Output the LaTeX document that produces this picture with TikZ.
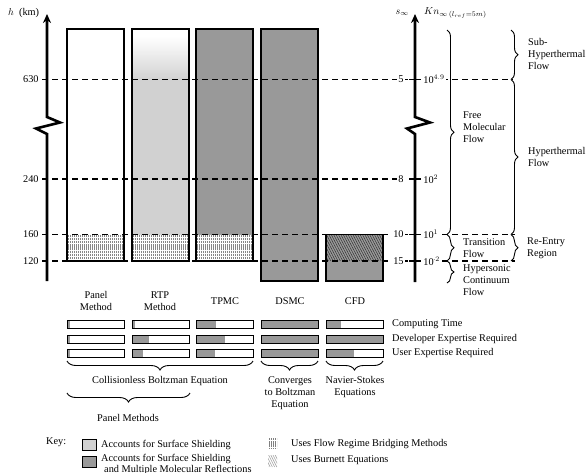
\documentclass[tikz,border=0pt]{standalone}
\usepackage{fontspec}
\setmainfont{Liberation Serif}
\usetikzlibrary{decorations.pathreplacing,arrows.meta}
\definecolor{dk}{gray}{0.6}
\definecolor{lt}{gray}{0.82}
\begin{document}
\begin{tikzpicture}[x=1pt,y=-1pt,font=\fontsize{10.3}{11.8}\selectfont,
  lbl/.style={inner sep=0pt},
  wlbl/.style={inner sep=1.2pt,fill=white},
  dline/.style={dash pattern=on 6pt off 4pt,line width=1.2pt},
  colbox/.style={draw=black,line width=1.1pt},
  minibar/.style={draw=black,line width=1pt},
  brc/.style={decorate,decoration={brace,amplitude=7pt},line width=0.9pt},
  bbrc/.style={decorate,decoration={brace,amplitude=9pt},line width=0.9pt},
  axisline/.style={line width=2.6pt},
  tickline/.style={line width=1.1pt},
  vhatch/.style={gray!95,line width=0.6pt,dash pattern=on 2.4pt off 0.8pt},
  dhatch/.style={gray!40!black,line width=0.5pt},
]
\useasboundingbox (0,0) rectangle (587,472);
% ---------- column fills ----------
% RTP gradient
\fill[white] (132,29) rectangle (189,36);
\foreach \i in {0,...,44}{
  \pgfmathtruncatemacro\p{100*\i/44}
  \fill[lt!\p!white] (132,36+\i) rectangle (189,37.3+\i);
}
\fill[lt] (132,80) rectangle (189,261);
\fill[dk] (196,29) rectangle (253,261);
\fill[dk] (261,29) rectangle (318,281);
\fill[dk] (326,234.5) rectangle (383,281);
% bridging hatch
\foreach \xa/\xb in {67/124,132/189,196/253}{
  \fill[white] (\xa,234.5) rectangle (\xb,261);
  \begin{scope}
    \clip (\xa,234.5) rectangle (\xb,261);
    \foreach \k in {0,...,28}{
      \draw[vhatch] (\xa+1.2+2*\k,234.5) -- (\xa+1.2+2*\k,261);
    }
  \end{scope}
}
% Burnett hatch in CFD
\begin{scope}
  \clip (326,234.5) rectangle (383,261);
  \foreach \k in {0,...,30}{
    \draw[dhatch] (312+2.4*\k,234.5) -- (326+2.4*\k,261);
  }
\end{scope}
% borders
\draw[colbox] (67,29) rectangle (124,261);
\draw[colbox] (132,29) rectangle (189,261);
\draw[colbox] (196,29) rectangle (253,261);
\draw[colbox] (261,29) rectangle (318,281);
\draw[colbox] (326,234.5) rectangle (383,281);
% ---------- dashed level lines ----------
\draw[dline] (42,79.5) -- (513,79.5);
\draw[dline] (42,179) -- (405,179);
\draw[dline] (42,234.5) -- (515,234.5);
\draw[dline] (42,261) -- (515,261);
% ---------- left axis ----------
\draw[axisline,-{Stealth[length=9pt,width=8pt]}] (47,281) -- (47,134) -- (36,128.5) -- (60,122.5) -- (47,117) -- (47,14);
\node[lbl,anchor=west] (hlab) at (8,13) {$h$\ \ (km)};
\node[wlbl,anchor=east] (l630) at (40,79.5) {630};
\node[wlbl,anchor=east] (l240) at (40,179) {240};
\node[wlbl,anchor=east] (l160) at (40,234.5) {160};
\node[wlbl,anchor=east] (l120) at (40,261) {120};
% ---------- right axis ----------
\node[wlbl,anchor=east] (s5) at (405,79.5) {5};
\node[wlbl,anchor=east] (s8) at (405,179) {8};
\node[wlbl,anchor=east] (s10) at (405,234.5) {10};
\node[wlbl,anchor=east] (s15) at (405,261) {15};
\node[wlbl,anchor=west] (k5) at (422,79.5) {10$^{4.9}$};
\node[wlbl,anchor=west] (k8) at (422,179) {10$^{2}$};
\node[wlbl,anchor=west] (k10) at (422,234.5) {10$^{1}$};
\node[wlbl,anchor=west] (k15) at (422,261) {10$^{\mbox{\tiny -}2}$};
\draw[axisline,-{Stealth[length=9pt,width=8pt]}] (415,282) -- (415,134) -- (407,128.5) -- (430,122.5) -- (415,117) -- (415,14);
\foreach \yy in {79.5,179,234.5,261}{
  \draw[tickline] (409,\yy) -- (421,\yy);
}
\node[lbl,anchor=east] (slab) at (409,13) {$s_{\infty}$};
\node[lbl,anchor=west] (knlab) at (424,13) {$Kn_{\infty\,(l_{ref}=5m)}$};
% ---------- regime braces ----------
\draw[brc] (447,30) -- (447,234.5);
\draw[brc] (447,234.5) -- (447,261);
\draw[brc] (447,261) -- (447,283);
\draw[brc] (511,30) -- (511,79.5);
\draw[brc] (511,79.5) -- (511,234.5);
\draw[brc] (511,234.5) -- (511,261);
\node[lbl,anchor=west,align=left] (fm) at (463,127) {Free\\Molecular\\Flow};
\node[lbl,anchor=west,align=left] (tr) at (463,248) {Transition\\Flow};
\node[lbl,anchor=west,align=left] (hc) at (463,280) {Hypersonic\\Continuum\\Flow};
\node[lbl,anchor=west,align=left] (sh) at (528,54) {Sub-\\Hyperthermal\\Flow};
\node[lbl,anchor=west,align=left] (ht) at (528,157) {Hyperthermal\\Flow};
\node[lbl,anchor=west,align=left] (re) at (527,248) {Re-Entry\\Region};
% ---------- column labels ----------
\node[lbl,align=center] (cp) at (96,301) {Panel\\Method};
\node[lbl,align=center] (cr) at (160,301) {RTP\\Method};
\node[lbl] (ct) at (225,301) {TPMC};
\node[lbl] (cd) at (290,301) {DSMC};
\node[lbl] (cc) at (355,301) {CFD};
% ---------- mini bars ----------
\foreach \xa/\fa/\fb/\fc in {67/2.5/2.5/2.5,132/2.5/17/11,196/20/29/19,261/57/57/57,326/15/57/28}{
  \fill[dk] (\xa,320.5) rectangle (\xa+\fa,328.5);
  \fill[dk] (\xa,335) rectangle (\xa+\fb,343);
  \fill[dk] (\xa,349) rectangle (\xa+\fc,357);
  \draw[minibar] (\xa,320.5) rectangle (\xa+57,328.5);
  \draw[minibar] (\xa,335) rectangle (\xa+57,343);
  \draw[minibar] (\xa,349) rectangle (\xa+57,357);
}
\node[lbl,anchor=west] (t1) at (392,324.5) {Computing Time};
\node[lbl,anchor=west] (t2) at (392,339) {Developer Expertise Required};
\node[lbl,anchor=west] (t3) at (392,353) {User Expertise Required};
% ---------- bottom braces ----------
\draw[bbrc] (253,361) -- (67,361);
\draw[bbrc] (318,361) -- (261,361);
\draw[bbrc] (383,361) -- (326,361);
\draw[bbrc] (190,393) -- (67,393);
\node[lbl] (cb) at (160,381) {Collisionless Boltzman Equation};
\node[lbl,align=center] (cv) at (290,393) {Converges\\to Boltzman\\Equation};
\node[lbl,align=center] (ns) at (355,387) {Navier-Stokes\\Equations};
\node[lbl] (pm) at (128,418) {Panel Methods};
% ---------- key ----------
\node[lbl,anchor=west] (key) at (46,442) {Key:};
\draw[fill=lt,line width=0.9pt] (82,439.5) rectangle (96,450);
\draw[fill=dk,line width=0.9pt] (82,456.5) rectangle (96,467);
\node[lbl,anchor=west] (k1) at (101,445) {Accounts for Surface Shielding};
\node[lbl,anchor=north west,align=left,font=\fontsize{10.3}{11}\selectfont] (k2) at (101,453.8) {Accounts for Surface Shielding\\\hspace*{3pt}and Multiple Molecular Reflections};
\begin{scope}
  \clip (268,438) rectangle (277,449);
  \foreach \k in {0,...,4}{
    \draw[vhatch,gray] (268.8+2*\k,438) -- (268.8+2*\k,449);
  }
\end{scope}
\begin{scope}
  \clip (268,455) rectangle (277,467);
  \foreach \k in {0,...,9}{
    \draw[gray!70,line width=0.6pt] (262+2.2*\k,455) -- (268+2.2*\k,467);
  }
\end{scope}
\node[lbl,anchor=west] (k3) at (291,444) {Uses Flow Regime Bridging Methods};
\node[lbl,anchor=west] (k4) at (291,460) {Uses Burnett Equations};
\end{tikzpicture}
\end{document}
